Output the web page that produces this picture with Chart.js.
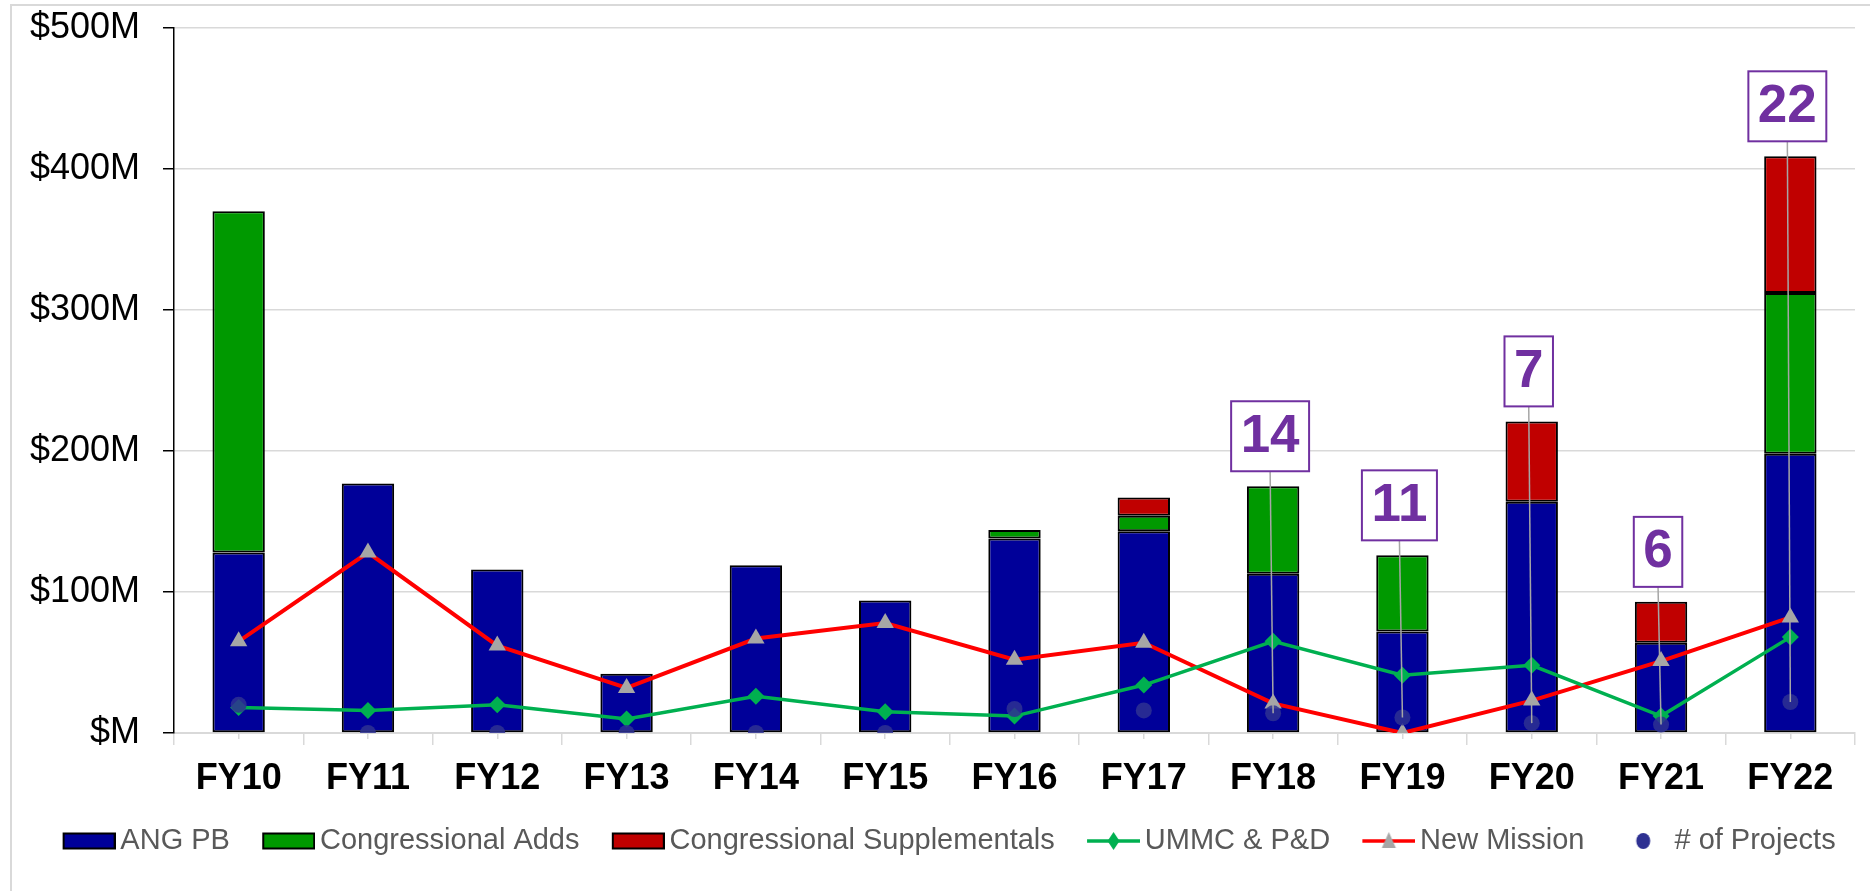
<!DOCTYPE html>
<html>
<head>
<meta charset="utf-8">
<script src="https://cdn.jsdelivr.net/npm/chart.js@4.4.1/dist/chart.umd.min.js"></script>
<style>
  html, body { margin: 0; padding: 0; background: #fff; }
  #wrap { width: 1870px; height: 891px; position: relative; }
</style>
</head>
<body>
<div id="wrap"><canvas id="fundChart"></canvas></div>
<script>
// values in $M
const fiscalYears = ["FY10", "FY11", "FY12", "FY13", "FY14", "FY15", "FY16", "FY17", "FY18", "FY19", "FY20", "FY21", "FY22"];
const angPB = [128, 177, 116, 42, 119, 94, 138, 143, 113, 72, 164, 64, 198];
const congAdds = [242, null, null, null, null, null, 6, 11, 62, 54, null, null, 114];
const congSupp = [null, null, null, null, null, null, null, 13, null, null, 57, 29, 97];
const ummcPD = [18, 16, 20, 10, 26, 15, 12, 34, 65, 41, 48, 12, 68];
const newMission = [65, 128, 62, 32, 67, 78, 52, 64, 21, 0, 23, 51, 82];
const projectCount = [20, 0, 0, 0, 0, 0, 17, 16, 14, 11, 7, 6, 22];
const projectLabels = ["", "", "", "", "", "", "", "", "14", "11", "7", "6", "22"];
const yTicks = [0, 100, 200, 300, 400, 500];

const FONT = '"Liberation Sans", Arial, sans-serif';
const PURPLE = "#7030A0";

// legend symbols: canvas images so the line series show line + marker
function legendIcon(kind, color, marker) {
  const c = document.createElement("canvas");
  c.width = 63;
  c.height = 24;
  const g = c.getContext("2d");
  const x0 = 10, cy = 12, cx = 36.5;
  if (kind === "bar") {
    g.fillStyle = color;
    g.fillRect(x0 + 1, cy - 7.5, 51, 15);
    g.strokeStyle = "#000";
    g.lineWidth = 2;
    g.strokeRect(x0 + 1, cy - 7.5, 51, 15);
  } else if (kind === "line") {
    g.strokeStyle = color;
    g.lineWidth = 3.5;
    g.beginPath();
    g.moveTo(x0, cy);
    g.lineTo(63, cy);
    g.stroke();
    g.fillStyle = marker;
    g.beginPath();
    if (marker === "#00B050") { // diamond
      g.moveTo(cx, cy - 9);
      g.lineTo(cx + 6, cy);
      g.lineTo(cx, cy + 9);
      g.lineTo(cx - 6, cy);
    } else { // triangle
      g.moveTo(cx, cy - 9);
      g.lineTo(cx + 7, cy + 7);
      g.lineTo(cx - 7, cy + 7);
    }
    g.closePath();
    g.fill();
  } else {
    g.fillStyle = color;
    g.beginPath();
    g.ellipse(cx, cy, 7, 8, 0, 0, Math.PI * 2);
    g.fill();
  }
  return c;
}

const legendIcons = [
  legendIcon("bar", "#000099"),
  legendIcon("bar", "#009900"),
  legendIcon("bar", "#C00000"),
  legendIcon("line", "#00B050", "#00B050"),
  legendIcon("line", "#FF0000", "#A6A6A6"),
  legendIcon("dot", "#2E3192")
];

// light frame round the chart, like the office chart border
const chartFrame = {
  id: "chartFrame",
  beforeDraw(chart) {
    const ctx = chart.ctx;
    ctx.save();
    ctx.strokeStyle = "#D9D9D9";
    ctx.lineWidth = 2;
    ctx.strokeRect(11, 5, chart.width + 20, chart.height + 20);
    ctx.restore();
  }
};

// number-of-projects call-out boxes with leader lines
const projectCallouts = {
  id: "projectCallouts",
  afterDatasetsDraw(chart) {
    const ctx = chart.ctx;
    const meta = chart.getDatasetMeta(5);
    const yScale = chart.scales.y;
    ctx.save();
    ctx.font = "bold 53px " + FONT;
    projectLabels.forEach((txt, i) => {
      if (!txt) return;
      const pt = meta.data[i];
      const total = (angPB[i] || 0) + (congAdds[i] || 0) + (congSupp[i] || 0);
      const stackTop = yScale.getPixelForValue(total);
      const w = ctx.measureText(txt).width + 19;
      const h = 70;
      const cx = pt.x - 3;
      const bottom = stackTop - 15;

      ctx.strokeStyle = "#A6A6A6";
      ctx.lineWidth = 1.5;
      ctx.beginPath();
      ctx.moveTo(cx, bottom);
      ctx.lineTo(pt.x, pt.y);
      ctx.stroke();

      ctx.fillStyle = "#fff";
      ctx.fillRect(cx - w / 2, bottom - h, w, h);
      ctx.strokeStyle = PURPLE;
      ctx.lineWidth = 2;
      ctx.strokeRect(cx - w / 2, bottom - h, w, h);

      ctx.fillStyle = PURPLE;
      ctx.textAlign = "center";
      ctx.textBaseline = "middle";
      ctx.fillText(txt, cx, bottom - h / 2 + 1);
    });
    ctx.restore();
  }
};

const fundChart = new Chart(document.getElementById("fundChart"), {
  type: "bar",
  data: {
    labels: fiscalYears,
    datasets: [
      {
        label: "ANG PB",
        data: angPB,
        backgroundColor: "#000099",
        borderColor: "#000",
        borderWidth: 2,
        borderSkipped: false,
        stack: "funds",
        order: 3,
        barPercentage: 0.405,
        categoryPercentage: 1
      },
      {
        label: "Congressional Adds",
        data: congAdds,
        backgroundColor: "#009900",
        borderColor: "#000",
        borderWidth: 2,
        borderSkipped: false,
        stack: "funds",
        order: 3,
        barPercentage: 0.405,
        categoryPercentage: 1
      },
      {
        label: "Congressional Supplementals",
        data: congSupp,
        backgroundColor: "#C00000",
        borderColor: "#000",
        borderWidth: 2,
        borderSkipped: false,
        stack: "funds",
        order: 3,
        barPercentage: 0.405,
        categoryPercentage: 1
      },
      {
        type: "line",
        label: "UMMC & P&D",
        data: ummcPD,
        borderColor: "#00B050",
        backgroundColor: "#00B050",
        borderWidth: 3.5,
        pointStyle: "rectRot",
        pointRadius: 8.5,
        pointBorderWidth: 0,
        tension: 0,
        stack: "ummc",
        order: 1
      },
      {
        type: "line",
        label: "New Mission",
        data: newMission,
        borderColor: "#FF0000",
        backgroundColor: "#A6A6A6",
        borderWidth: 4,
        pointStyle: "triangle",
        pointRadius: 10,
        pointBorderWidth: 0,
        tension: 0,
        stack: "mission",
        order: 2
      },
      {
        type: "line",
        label: "# of Projects",
        data: projectCount,
        showLine: false,
        backgroundColor: "rgba(46,49,146,0.85)",
        borderColor: "rgba(46,49,146,0.85)",
        pointStyle: "circle",
        pointRadius: 8,
        pointBorderWidth: 0,
        stack: "projects",
        order: 0
      }
    ]
  },
  options: {
    responsive: true,
    maintainAspectRatio: false,
    animation: false,
    devicePixelRatio: 1,
    layout: { padding: { left: 28, right: 0, top: 28, bottom: 25.5 } },
    plugins: {
      tooltip: { enabled: false },
      legend: {
        position: "bottom",
        labels: {
          usePointStyle: true,
          pointStyleWidth: 43.5,
          padding: 32,
          color: "#595959",
          font: { family: FONT, size: 29 },
          generateLabels(chart) {
            return chart.data.datasets.map((ds, i) => ({
              text: ds.label,
              pointStyle: legendIcons[i],
              fillStyle: "transparent",
              strokeStyle: "transparent",
              lineWidth: 0,
              fontColor: "#595959",
              hidden: false,
              datasetIndex: i
            }));
          }
        }
      }
    },
    scales: {
      x: {
        stacked: true,
        weight: 1,
        offset: true,
        grid: {
          offset: true,
          drawOnChartArea: false,
          tickLength: 12,
          tickColor: "#D9D9D9",
          lineWidth: 1.5
        },
        border: { color: "#D9D9D9", width: 2 },
        ticks: {
          color: "#000",
          font: { family: FONT, size: 36, weight: "bold" },
          padding: 12,
          maxRotation: 0,
          autoSkip: false
        },
        afterFit(scale) { scale.height = 61.5; }
      },
      x2: {
        type: "category",
        position: "bottom",
        weight: 0,
        offset: true,
        grid: {
          offset: false,
          drawOnChartArea: false,
          tickLength: 6,
          tickColor: "#D9D9D9",
          lineWidth: 1.5
        },
        border: { display: false },
        ticks: { display: false },
        afterFit(scale) { scale.height = 0; }
      },
      y: {
        stacked: true,
        min: yTicks[0],
        max: yTicks[yTicks.length - 1],
        afterBuildTicks(scale) { scale.ticks = yTicks.map(v => ({ value: v })); },
        grid: {
          color: "#D9D9D9",
          lineWidth: 1.5,
          tickColor: "#000",
          tickLength: 11,
          tickWidth: 1.5
        },
        border: { color: "#000", width: 1.5 },
        ticks: {
          color: "#000",
          padding: 23,
          font: { family: FONT, size: 36 },
          callback: v => (v === 0 ? "$M" : "$" + v + "M")
        },
        afterFit(scale) {
          scale.width = 146;
          scale.paddingTop = 0;
          scale.paddingBottom = 0;
        }
      },
      yR: {
        position: "right",
        grid: { display: false },
        border: { display: false },
        ticks: { display: false },
        afterFit(scale) { scale.width = 15; }
      }
    }
  },
  plugins: [chartFrame, projectCallouts]
});
</script>
</body>
</html>
